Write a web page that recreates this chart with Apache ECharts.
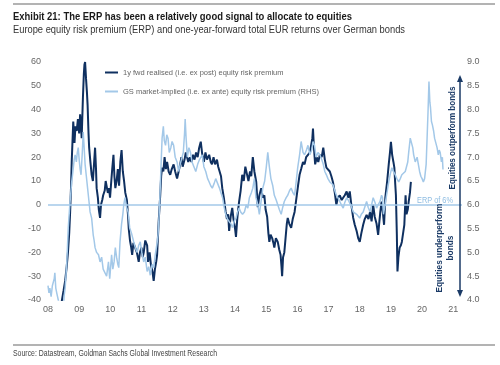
<!DOCTYPE html>
<html>
<head>
<meta charset="utf-8">
<script src="https://cdn.jsdelivr.net/npm/echarts@6/dist/echarts.min.js"></script>
<style>html,body{margin:0;padding:0;background:#fff;}#c{width:500px;height:365px;}</style>
</head>
<body>
<div id="c"></div>
<script>
// ---- data ----
var yearTicks = ['08','09','10','11','12','13','14','15','16','17','18','19','20','21'];
var darkName = '1y fwd realised (i.e. ex post) equity risk premium';
var lightName = 'GS market-implied (i.e. ex ante) equity risk premium (RHS)';

var darkYears = [2008.42,2008.44,2008.50,2008.55,2008.60,2008.64,2008.68,2008.71,2008.74,2008.76,2008.79,2008.81,2008.85,2008.88,2008.92,2008.96,2009.00,2009.03,2009.06,2009.08,2009.12,2009.15,2009.17,2009.19,2009.22,2009.25,2009.27,2009.30,2009.32,2009.36,2009.40,2009.44,2009.48,2009.51,2009.54,2009.56,2009.60,2009.63,2009.67,2009.70,2009.74,2009.77,2009.82,2009.85,2009.88,2009.92,2009.96,2009.99,2010.03,2010.06,2010.10,2010.13,2010.16,2010.20,2010.24,2010.28,2010.32,2010.36,2010.40,2010.44,2010.48,2010.53,2010.57,2010.59,2010.63,2010.67,2010.70,2010.74,2010.80,2010.85,2010.91,2010.95,2011.00,2011.04,2011.07,2011.12,2011.18,2011.21,2011.26,2011.30,2011.35,2011.39,2011.43,2011.47,2011.50,2011.55,2011.60,2011.63,2011.66,2011.70,2011.74,2011.78,2011.82,2011.87,2011.92,2011.97,2012.03,2012.08,2012.14,2012.19,2012.24,2012.28,2012.32,2012.38,2012.42,2012.46,2012.50,2012.55,2012.60,2012.65,2012.70,2012.75,2012.80,2012.85,2012.90,2012.95,2013.00,2013.05,2013.10,2013.17,2013.22,2013.26,2013.31,2013.36,2013.42,2013.46,2013.50,2013.55,2013.59,2013.64,2013.70,2013.74,2013.78,2013.81,2013.86,2013.91,2013.95,2014.00,2014.03,2014.07,2014.10,2014.13,2014.18,2014.23,2014.28,2014.33,2014.38,2014.43,2014.48,2014.52,2014.57,2014.62,2014.68,2014.73,2014.78,2014.84,2014.89,2014.94,2014.98,2015.03,2015.07,2015.10,2015.14,2015.19,2015.23,2015.26,2015.31,2015.37,2015.42,2015.46,2015.49,2015.51,2015.54,2015.58,2015.62,2015.66,2015.69,2015.74,2015.80,2015.85,2015.91,2015.98,2016.02,2016.07,2016.12,2016.18,2016.23,2016.28,2016.34,2016.40,2016.44,2016.48,2016.50,2016.53,2016.57,2016.62,2016.67,2016.72,2016.78,2016.83,2016.88,2016.93,2016.98,2017.04,2017.09,2017.14,2017.20,2017.25,2017.30,2017.36,2017.42,2017.47,2017.52,2017.58,2017.63,2017.68,2017.73,2017.79,2017.84,2017.90,2017.95,2018.00,2018.05,2018.11,2018.16,2018.22,2018.28,2018.33,2018.38,2018.43,2018.48,2018.54,2018.59,2018.63,2018.66,2018.70,2018.74,2018.78,2018.82,2018.88,2018.93,2018.97,2019.00,2019.04,2019.08,2019.11,2019.14,2019.16,2019.19,2019.21,2019.24,2019.28,2019.32,2019.35,2019.39,2019.43,2019.47,2019.50,2019.54,2019.57,2019.61,2019.64];
var darkValues = [-42,-40.6,-36,-32,-26,-20,-12,-3,8,18,28,35,26,33,31,36,30,38,33,28,45,55,59,60,53,47,42,30,24,18,12.6,10,18,24,15,7,3,-2,-5.5,0,2,4,6,10,9.6,5,7,3,10,15,21,12,7,10,15,8,18,23,14,10,5,2,-5,-10,-15,-18,-21,-16,-15.6,-20,-24,-20,-18,-22,-20,-15,-17,-24,-20,-25,-28,-32,-27,-24,-21,-7,4,12,15.6,14,20,15,18,14,12.6,15,17,14,11,14,17,20,16,19,22,22,18,20,18,21,19,22,20,24,26.5,21,18,22,19,21,18,17,20,17,19,16,15.6,12,7,3,-3,-6,-4,-11,-5,-1.3,-6,-10,-13.5,-6,-2,1.3,6,12.6,10,16,13,10,14,12,20,14,9.6,-1,4,7,3,4,-2,-5,-12,-15.6,-12.6,-14,-16,-18,-14,-15.6,-19,-21,-26,-30,-22,-20,-14,-8,-5.5,-8,-9.7,-6,-3,4,8,12.6,15,18,17,20,21,22,25,28,32,24,17,20,18,21,20,24,19,15.6,16,14,12,9.6,5,0,3,4,2,1.3,4,5.6,3,5.6,0,-5.5,-8.4,-11,-14,-15.6,-12,-8.4,-6,-4.2,-6,-3,-7,0,-5,-8,-12.6,-7,-3,1.3,-3,-8.4,3,10,17,22,26.5,21,18,15.6,8.4,4,-12.6,-28,-22,-18,-17,-15.6,-12,-8.4,4,-4,-2,1.3,5,9.6];

var lightYears = [2008.00,2008.03,2008.06,2008.10,2008.14,2008.17,2008.20,2008.22,2008.25,2008.28,2008.33,2008.38,2008.45,2008.50,2008.52,2008.55,2008.60,2008.65,2008.70,2008.76,2008.80,2008.84,2008.87,2008.91,2008.94,2008.97,2009.00,2009.03,2009.06,2009.10,2009.13,2009.16,2009.19,2009.23,2009.27,2009.31,2009.35,2009.40,2009.45,2009.48,2009.51,2009.56,2009.62,2009.67,2009.72,2009.77,2009.83,2009.88,2009.94,2009.98,2010.04,2010.08,2010.12,2010.16,2010.20,2010.24,2010.27,2010.31,2010.36,2010.40,2010.43,2010.47,2010.52,2010.57,2010.62,2010.68,2010.75,2010.80,2010.86,2010.91,2010.96,2011.01,2011.07,2011.12,2011.18,2011.23,2011.28,2011.34,2011.39,2011.44,2011.50,2011.53,2011.57,2011.60,2011.63,2011.66,2011.70,2011.73,2011.77,2011.81,2011.85,2011.89,2011.94,2011.98,2012.03,2012.08,2012.14,2012.19,2012.24,2012.30,2012.34,2012.38,2012.40,2012.43,2012.47,2012.52,2012.57,2012.62,2012.68,2012.74,2012.80,2012.86,2012.95,2013.00,2013.06,2013.12,2013.17,2013.22,2013.27,2013.33,2013.38,2013.44,2013.50,2013.55,2013.60,2013.65,2013.70,2013.76,2013.81,2013.87,2013.92,2013.97,2014.03,2014.08,2014.13,2014.18,2014.24,2014.30,2014.36,2014.41,2014.46,2014.52,2014.57,2014.62,2014.67,2014.73,2014.78,2014.84,2014.89,2014.95,2015.00,2015.05,2015.10,2015.15,2015.21,2015.26,2015.32,2015.37,2015.42,2015.48,2015.53,2015.58,2015.64,2015.69,2015.75,2015.80,2015.86,2015.91,2015.96,2016.01,2016.07,2016.12,2016.18,2016.23,2016.29,2016.34,2016.40,2016.46,2016.50,2016.55,2016.60,2016.66,2016.72,2016.78,2016.83,2016.88,2016.93,2016.98,2017.04,2017.09,2017.14,2017.20,2017.25,2017.30,2017.36,2017.41,2017.47,2017.52,2017.58,2017.63,2017.68,2017.74,2017.79,2017.84,2017.90,2017.95,2018.00,2018.05,2018.11,2018.16,2018.22,2018.27,2018.33,2018.38,2018.43,2018.49,2018.54,2018.59,2018.65,2018.70,2018.73,2018.76,2018.81,2018.86,2018.93,2018.98,2019.03,2019.08,2019.14,2019.19,2019.25,2019.30,2019.35,2019.40,2019.46,2019.50,2019.54,2019.57,2019.62,2019.66,2019.70,2019.73,2019.78,2019.84,2019.88,2019.92,2019.96,2020.00,2020.04,2020.08,2020.13,2020.16,2020.19,2020.22,2020.25,2020.27,2020.30,2020.33,2020.37,2020.40,2020.44,2020.48,2020.52,2020.55,2020.58,2020.62,2020.65,2020.67];
var lightValues = [4.30,4.15,4.25,4.07,4.30,4.28,4.45,4.57,4.25,4.15,4.00,3.85,3.80,3.90,4.10,4.25,4.75,5.52,6.00,6.48,6.70,6.95,7.05,6.90,7.10,7.20,6.95,6.75,6.63,7.10,7.53,7.20,6.85,6.60,6.35,6.10,5.85,5.72,5.37,5.25,5.10,5.00,4.95,4.80,4.90,4.65,4.68,4.50,4.80,4.45,4.95,4.65,4.80,5.10,4.90,4.75,4.68,5.22,5.60,5.80,6.00,6.15,5.95,5.85,5.52,5.40,5.22,5.10,5.00,5.15,5.22,5.00,4.80,4.90,4.60,4.70,4.52,4.75,4.68,4.95,5.20,5.37,5.85,6.35,6.90,7.40,7.65,7.35,7.25,7.47,7.40,7.10,7.20,7.33,7.25,7.00,6.90,6.70,6.85,6.85,7.10,7.50,7.80,7.40,7.00,7.20,7.10,6.90,6.80,6.70,6.85,6.95,7.05,6.80,6.70,6.55,6.48,6.40,6.35,6.45,6.55,6.45,6.35,6.25,6.15,5.95,5.80,5.70,5.65,5.60,5.52,5.65,5.72,5.85,5.93,5.85,5.80,5.85,6.00,5.93,6.15,6.25,6.35,6.55,6.15,6.00,5.80,6.10,6.35,6.50,6.78,7.10,6.80,6.55,6.40,6.20,6.10,6.00,5.90,5.80,5.95,6.07,6.15,6.20,6.30,6.35,6.25,6.20,6.48,6.78,7.05,7.33,7.10,7.05,7.15,7.25,7.05,7.15,7.33,7.25,7.00,7.10,7.05,6.95,6.85,6.70,6.63,6.55,6.48,6.45,6.42,6.30,6.20,6.15,6.07,6.00,5.93,6.05,6.15,6.10,6.07,5.95,5.85,5.83,5.80,5.78,5.72,5.80,5.85,5.95,6.07,5.95,5.85,6.00,6.15,6.05,5.93,6.00,6.07,6.20,6.15,5.80,6.00,6.20,6.48,6.65,6.78,6.70,6.63,6.55,6.48,6.55,6.63,6.65,6.70,6.80,6.90,7.10,7.40,7.30,7.20,7.05,6.90,7.00,6.85,6.70,6.60,6.55,6.48,6.55,6.85,7.40,7.95,8.59,8.15,8.04,7.75,7.68,7.55,7.40,7.30,7.20,7.05,7.15,7.10,6.90,7.00,6.74];

var leftTicks = {min: -40, max: 60, step: 10};
var rightTicks = {min: 4, max: 9, step: 0.5};
var erpLine = 0; // left-axis value aligned with ERP of 6% on right axis

// ---- build ----
function pairs(xs, ys){ var o=[]; for (var i=0;i<xs.length;i++) o.push([xs[i], ys[i]]); return o; }
var DARK = '#0f3060', LIGHT = '#a3c8e8', NAVY = '#1a3a66';
var REG = "'Liberation Sans',Arial,sans-serif";

var mctx = document.createElement('canvas').getContext('2d');
function fitScale(text, font, target){ mctx.font = font; var w = mctx.measureText(text).width; return w > 0 ? target / w : 1; }

function fitText(text, font, x, y, target, fill, extra){
  var s = fitScale(text.split('\n')[0], font, target);
  var el = {type: 'text', x: x, y: y, scaleX: s, scaleY: 1, z: 10,
    style: {text: text, font: font, fill: fill, textAlign: 'left', textVerticalAlign: 'middle'}};
  if (extra) { for (var k in extra) { if (k === 'style') { for (var j in extra.style) el.style[j] = extra.style[j]; } else el[k] = extra[k]; } }
  return el;
}

var titleFont = 'bold 11px ' + REG;
var subFont = '10.5px ' + REG;
var srcFont = '8.5px ' + REG;
var annFont = 'bold 9.5px ' + REG;
var erpFont = '9px ' + REG;

var chart = echarts.init(document.getElementById('c'), null, {renderer: 'canvas'});
var option = {
  backgroundColor: '#fff',
  animation: false,
  legend: {
    orient: 'vertical', left: 105, top: 68.5, padding: 0, itemGap: 11,
    itemWidth: 13, itemHeight: 2,
    textStyle: {fontFamily: REG, fontSize: 7.5, color: '#666'},
    data: [
      {name: darkName, icon: 'rect', itemStyle: {color: DARK}},
      {name: lightName, icon: 'rect', itemStyle: {color: LIGHT}}
    ]
  },
  grid: {left: 48, right: 38, top: 62, bottom: 65},
  xAxis: {
    type: 'value', min: 2008, max: 2021.28, interval: 1,
    axisLine: {show: false}, axisTick: {show: false}, splitLine: {show: false},
    axisLabel: {margin: 5, fontFamily: REG, fontSize: 9, color: '#666', showMaxLabel: false,
      formatter: function(v){ var i = Math.round(v - 2008); return Math.abs(v - Math.round(v)) < 1e-6 ? (yearTicks[i] || '') : ''; }}
  },
  yAxis: [
    {type: 'value', min: leftTicks.min, max: leftTicks.max, interval: leftTicks.step,
     axisLine: {show: false}, axisTick: {show: false}, splitLine: {show: false},
     axisLabel: {margin: 7, fontFamily: REG, fontSize: 9, color: '#666'}},
    {type: 'value', min: rightTicks.min, max: rightTicks.max, interval: rightTicks.step, position: 'right',
     axisLine: {show: false}, axisTick: {show: false}, splitLine: {show: false},
     axisLabel: {margin: 5, fontFamily: REG, fontSize: 9, color: '#666', formatter: function(v){ return v.toFixed(1); }}}
  ],
  series: [
    {name: darkName, type: 'line', yAxisIndex: 0, data: pairs(darkYears, darkValues), showSymbol: false, symbol: 'none',
     lineStyle: {color: DARK, width: 2}, itemStyle: {color: DARK}, z: 3,
     markLine: {silent: true, symbol: 'none', label: {show: false}, lineStyle: {color: LIGHT, width: 1.5, type: 'solid'},
       data: [{yAxis: erpLine}]}},
    {name: lightName, type: 'line', yAxisIndex: 1, data: pairs(lightYears, lightValues), showSymbol: false, symbol: 'none',
     lineStyle: {color: LIGHT, width: 1.5}, itemStyle: {color: LIGHT}, z: 4}
  ],
  graphic: [
    {type: 'line', shape: {x1: 13, y1: 4, x2: 495, y2: 4}, style: {stroke: '#9a9a9a', lineWidth: 1.5}},
    {type: 'line', shape: {x1: 13, y1: 345, x2: 495, y2: 345}, style: {stroke: '#9a9a9a', lineWidth: 1.5}},
    fitText('Exhibit 21: The ERP has been a relatively good signal to allocate to equities', titleFont, 13, 17, 339, '#1a1a1a'),
    fitText('Europe equity risk premium (ERP) and one-year-forward total EUR returns over German bonds', subFont, 13, 30, 392, '#333'),
    fitText('Source: Datastream, Goldman Sachs Global Investment Research', srcFont, 13, 354, 204, '#444'),
    // arrow
    {type: 'line', shape: {x1: 460, y1: 80, x2: 460, y2: 292}, style: {stroke: NAVY, lineWidth: 1.5}, z: 10},
    {type: 'polygon', shape: {points: [[460, 75], [457, 82], [463, 82]]}, style: {fill: NAVY}, z: 10},
    {type: 'polygon', shape: {points: [[460, 297], [457, 290], [463, 290]]}, style: {fill: NAVY}, z: 10},
    fitText('Equities outperform bonds', annFont, 452, 138, 103, NAVY, {rotation: Math.PI / 2, style: {textAlign: 'center'}}),
    fitText('Equities underperform\nbonds', annFont, 445, 248, 89, NAVY, {rotation: Math.PI / 2, style: {textAlign: 'center', lineHeight: 11}}),
    fitText('ERP of 6%', erpFont, 435, 200.5, 36, '#8fbde2', {style: {textAlign: 'center'}})
  ]
};
chart.setOption(option);
</script>
</body>
</html>
